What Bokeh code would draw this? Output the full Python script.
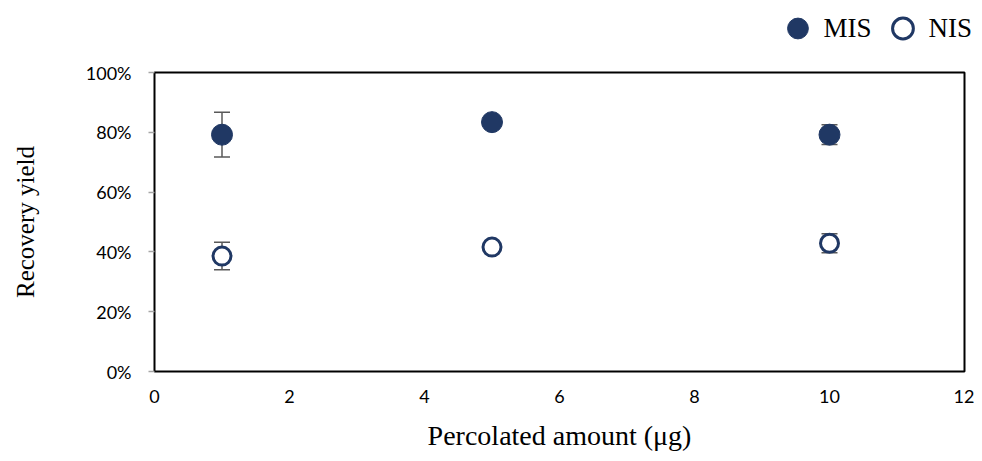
from bokeh.plotting import figure
from bokeh.layouts import column
from bokeh.models import (ColumnDataSource, Range1d, FixedTicker, NumeralTickFormatter,
                          Whisker, TeeHead, Legend, LegendItem)
from bokeh.embed import file_html
from bokeh.resources import INLINE

# Data
amount = [1, 5, 10]
mis_yield = [0.792, 0.834, 0.792]
mis_err = [0.075, 0.02, 0.033]
nis_yield = [0.386, 0.416, 0.429]
nis_err = [0.046, 0.01, 0.032]
x_ticks = [0, 2, 4, 6, 8, 10, 12]
y_ticks = [0, 0.2, 0.4, 0.6, 0.8, 1.0]
series_names = ["MIS", "NIS"]

NAVY = "#203864"
GRAY = "#595959"
SERIF = "Liberation Serif"
SANS = "Lato"

mis_src = ColumnDataSource(dict(x=amount, y=mis_yield,
                                lo=[v - e for v, e in zip(mis_yield, mis_err)],
                                hi=[v + e for v, e in zip(mis_yield, mis_err)]))
nis_src = ColumnDataSource(dict(x=amount, y=nis_yield,
                                lo=[v - e for v, e in zip(nis_yield, nis_err)],
                                hi=[v + e for v, e in zip(nis_yield, nis_err)]))

W = 974
LEG_W = 982
LEG_H = 56
MAIN_H = 405

p = figure(width=W, height=MAIN_H, output_backend="svg", toolbar_location=None,
           x_range=Range1d(0, 12), y_range=Range1d(0, 1),
           min_border_left=154, min_border_right=10, min_border_top=72 - LEG_H,
           min_border_bottom=MAIN_H - (72 - LEG_H) - 299)

p.background_fill_color = "white"
p.border_fill_color = "white"
p.outline_line_color = "black"
p.outline_line_width = 2
p.xgrid.grid_line_color = None
p.ygrid.grid_line_color = None

for src in (mis_src, nis_src):
    w = Whisker(source=src, base="x", lower="lo", upper="hi",
                line_color=GRAY, line_width=1.5, level="underlay",
                lower_head=TeeHead(size=16, line_color=GRAY, line_width=1.5),
                upper_head=TeeHead(size=16, line_color=GRAY, line_width=1.5))
    p.add_layout(w)

MIS_STYLE = dict(size=21, marker="circle", fill_color=NAVY, line_color=NAVY, line_width=1)
NIS_STYLE = dict(size=18, marker="circle", fill_color="white", line_color=NAVY, line_width=3)

p.scatter("x", "y", source=mis_src, **MIS_STYLE)
p.scatter("x", "y", source=nis_src, **NIS_STYLE)

# Axes
p.xaxis.ticker = FixedTicker(ticks=x_ticks)
p.yaxis.ticker = FixedTicker(ticks=y_ticks)
p.yaxis.formatter = NumeralTickFormatter(format="0%")
for ax in (p.xaxis, p.yaxis):
    ax.axis_line_color = None
    ax.minor_tick_line_color = None
    ax.major_label_text_font = SANS
    ax.major_label_text_font_size = "18px"
    ax.major_label_text_color = "black"
    ax.axis_label_text_font = SERIF
    ax.axis_label_text_font_style = "normal"
    ax.axis_label_text_color = "black"
p.xaxis.major_tick_line_color = None
p.xaxis.major_tick_out = 0
p.xaxis.major_tick_in = 0
p.xaxis.major_label_standoff = 18
p.yaxis.major_tick_line_color = "#A6A6A6"
p.yaxis.major_tick_line_width = 1.5
p.yaxis.major_tick_out = 6
p.yaxis.major_tick_in = 0
p.yaxis.major_label_standoff = 17

p.xaxis.axis_label = "Percolated amount (μg)"
p.xaxis.axis_label_text_font_size = "28px"
p.xaxis.axis_label_standoff = 14
p.yaxis.axis_label = "Recovery yield"
p.yaxis.axis_label_text_font_size = "25px"
p.yaxis.axis_label_standoff = 44

# Legend strip above the chart (its renderers share the data but sit out of view)
lf = figure(width=LEG_W, height=LEG_H, output_backend="svg", toolbar_location=None,
            x_range=Range1d(-20, -19), y_range=Range1d(-20, -19),
            x_axis_location=None, y_axis_location=None, min_border=0)
lf.outline_line_color = None
lf.xgrid.grid_line_color = None
lf.ygrid.grid_line_color = None
lr_mis = lf.scatter("x", "y", source=mis_src, **MIS_STYLE)
lr_nis = lf.scatter("x", "y", source=nis_src, **NIS_STYLE)

legend = Legend(items=[LegendItem(label=series_names[0], renderers=[lr_mis]),
                       LegendItem(label=series_names[1], renderers=[lr_nis])],
                orientation="horizontal", location="right",
                background_fill_alpha=0, border_line_color=None,
                label_text_font=SERIF, label_text_font_size="27px",
                label_text_color="black",
                glyph_width=52, glyph_height=52, label_standoff=0,
                spacing=5, padding=0, margin=0)
lf.add_layout(legend, "center")

layout = column(lf, p, spacing=0)
open("out.html", "w").write(file_html(layout, INLINE))
